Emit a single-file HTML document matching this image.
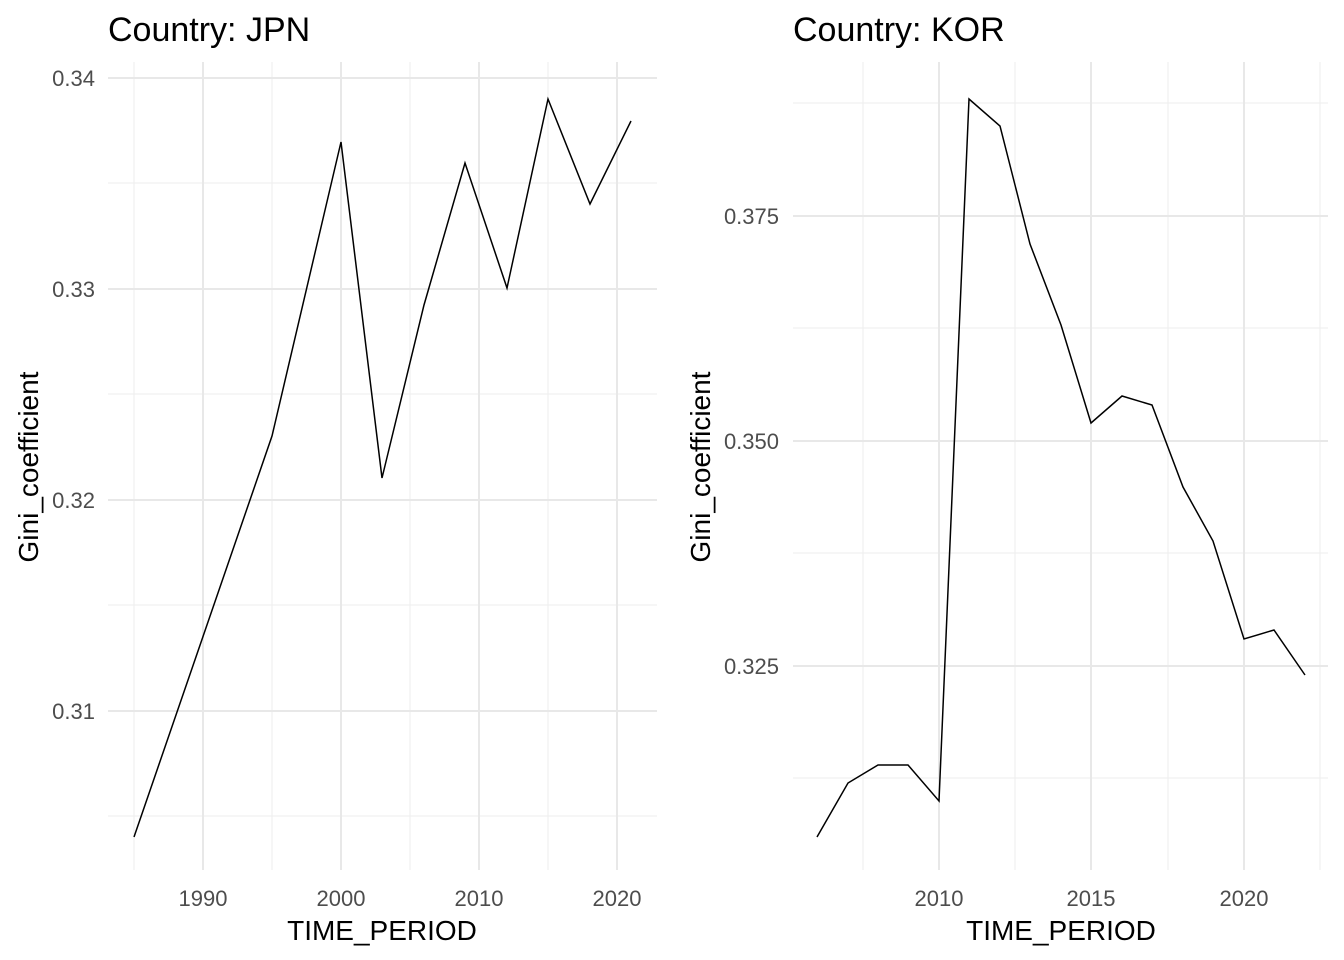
<!DOCTYPE html>
<html><head><meta charset="utf-8"><style>body{margin:0;background:#fff}svg{display:block}text{font-family:"Liberation Sans",sans-serif}</style></head><body>
<svg width="1344" height="960" viewBox="0 0 1344 960">
<g stroke="#eeeeee" stroke-width="1">
<line x1="108" x2="657" y1="183" y2="183"/><line x1="108" x2="657" y1="394" y2="394"/><line x1="108" x2="657" y1="605" y2="605"/><line x1="108" x2="657" y1="816" y2="816"/>
<line x1="134" x2="134" y1="62" y2="870"/><line x1="272" x2="272" y1="62" y2="870"/><line x1="410" x2="410" y1="62" y2="870"/><line x1="548" x2="548" y1="62" y2="870"/>
<line x1="793" x2="1328" y1="103" y2="103"/><line x1="793" x2="1328" y1="328" y2="328"/><line x1="793" x2="1328" y1="553" y2="553"/><line x1="793" x2="1328" y1="778" y2="778"/>
<line x1="863" x2="863" y1="62" y2="870"/><line x1="1015" x2="1015" y1="62" y2="870"/><line x1="1168" x2="1168" y1="62" y2="870"/><line x1="1320" x2="1320" y1="62" y2="870"/>
</g>
<g stroke="#e8e8e8" stroke-width="2">
<line x1="108" x2="657" y1="78" y2="78"/><line x1="108" x2="657" y1="289" y2="289"/><line x1="108" x2="657" y1="500" y2="500"/><line x1="108" x2="657" y1="711" y2="711"/>
<line x1="203" x2="203" y1="62" y2="870"/><line x1="341" x2="341" y1="62" y2="870"/><line x1="479" x2="479" y1="62" y2="870"/><line x1="617" x2="617" y1="62" y2="870"/>
<line x1="793" x2="1328" y1="216" y2="216"/><line x1="793" x2="1328" y1="441" y2="441"/><line x1="793" x2="1328" y1="666" y2="666"/>
<line x1="939" x2="939" y1="62" y2="870"/><line x1="1091" x2="1091" y1="62" y2="870"/><line x1="1244" x2="1244" y1="62" y2="870"/>
</g>
<polyline fill="none" stroke="#000" stroke-width="1.5" points="134,837 272,436 341,142 382,478 424,305 465,163 507,288 548,99 590,204 631,121"/>
<polyline fill="none" stroke="#000" stroke-width="1.5" points="817,837 848,783 878,765 908,765 939,801 969,99 1000,126 1030,244 1061,325 1091,423 1122,396 1152,405 1183,487 1213,541 1244,639 1274,630 1305,675"/>
<g font-size="22" fill="#4d4d4d" text-anchor="end">
<text x="95" y="86">0.34</text><text x="95" y="297">0.33</text><text x="95" y="508">0.32</text><text x="95" y="719">0.31</text>
<text x="779" y="224">0.375</text><text x="779" y="449">0.350</text><text x="779" y="674">0.325</text>
</g>
<g font-size="22" fill="#4d4d4d" text-anchor="middle">
<text x="203" y="906">1990</text><text x="341" y="906">2000</text><text x="479" y="906">2010</text><text x="617" y="906">2020</text>
<text x="939" y="906">2010</text><text x="1091" y="906">2015</text><text x="1244" y="906">2020</text>
</g>
<g font-size="28" fill="#000">
<text x="382" y="940" text-anchor="middle">TIME_PERIOD</text>
<text x="1061" y="940" text-anchor="middle">TIME_PERIOD</text>
<text transform="translate(38,467) rotate(-90)" text-anchor="middle">Gini_coefficient</text>
<text transform="translate(710,467) rotate(-90)" text-anchor="middle">Gini_coefficient</text>
<text x="108" y="41" font-size="34">Country: JPN</text>
<text x="793" y="41" font-size="34">Country: KOR</text>
</g>
</svg>
</body></html>
